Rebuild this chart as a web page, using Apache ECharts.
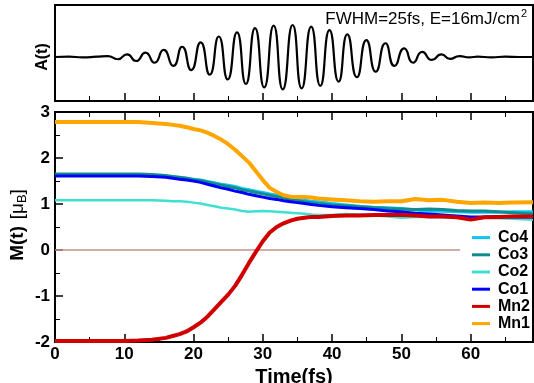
<!DOCTYPE html>
<html>
<head>
<meta charset="utf-8">
<script src="https://cdn.jsdelivr.net/npm/echarts@6/dist/echarts.min.js"></script>
<style>html,body{margin:0;padding:0;background:#fff}#c{width:534px;height:383px}</style>
</head>
<body>
<div id="c"></div>
<script>
// ---- data ----
var tA = [0,2,4,6,7.6,9.07,10.4,11.7,13.06,14.37,15.68,17.08,18.35,19.66,21.02,22.33,23.64,24.93,26.27,27.55,28.87,30.2,31.56,32.88,34.3,35.6,36.98,38.3,39.62,40.94,42.2,43.58,44.95,46.3,47.7,49.0,50.4,51.7,53.0,54.4,55.8,57.0,58.4,59.8,61,63,65,67,69];
var A  = [0,0.01,-0.01,0.01,0.03,-0.07,0.085,-0.125,0.135,-0.18,0.22,-0.28,0.32,-0.41,0.46,-0.55,0.64,-0.70,0.77,-0.84,0.90,-0.95,0.98,-1.01,1.0,-0.98,0.95,-0.90,0.84,-0.77,0.71,-0.63,0.53,-0.46,0.43,-0.28,0.27,-0.18,0.16,-0.09,0.08,-0.06,0.03,-0.01,0.01,-0.01,0.01,0,0];

var tM  = [0,5,10,12,14,16,17,18,19,20,21,22,23,24,25,26,27,28,29,30,31,32,33,34,35,36,37,38,40,42,44,46,48,50,52,54,56,58,60,62,64,66,69];
var Mn1 = [2.78,2.78,2.78,2.78,2.76,2.74,2.72,2.70,2.67,2.63,2.60,2.55,2.48,2.40,2.30,2.18,2.04,1.90,1.71,1.52,1.35,1.26,1.19,1.16,1.15,1.15,1.14,1.12,1.10,1.08,1.06,1.05,1.06,1.06,1.11,1.08,1.09,1.05,1.02,1.03,1.02,1.03,1.04];
var Mn2 = [-1.98,-1.98,-1.98,-1.97,-1.95,-1.91,-1.87,-1.83,-1.77,-1.68,-1.58,-1.45,-1.29,-1.13,-0.97,-0.78,-0.54,-0.28,-0.04,0.19,0.38,0.50,0.58,0.64,0.68,0.70,0.72,0.72,0.74,0.75,0.75,0.76,0.76,0.76,0.75,0.73,0.73,0.71,0.66,0.71,0.72,0.73,0.73];
var Co4 = [1.63,1.63,1.63,1.63,1.62,1.60,1.59,1.57,1.56,1.54,1.52,1.49,1.46,1.43,1.41,1.38,1.34,1.31,1.28,1.25,1.22,1.19,1.16,1.13,1.10,1.08,1.06,1.05,1.01,0.98,0.95,0.93,0.92,0.90,0.87,0.85,0.84,0.83,0.82,0.82,0.82,0.83,0.83];
var Co3 = [1.65,1.65,1.65,1.65,1.64,1.62,1.60,1.58,1.56,1.53,1.51,1.48,1.44,1.41,1.38,1.35,1.31,1.28,1.25,1.22,1.19,1.16,1.13,1.10,1.07,1.05,1.03,1.01,0.98,0.96,0.94,0.92,0.90,0.89,0.88,0.89,0.88,0.86,0.85,0.85,0.83,0.81,0.78];
var Co1 = [1.61,1.61,1.61,1.61,1.60,1.58,1.56,1.54,1.52,1.50,1.47,1.43,1.39,1.35,1.32,1.28,1.25,1.21,1.18,1.15,1.12,1.10,1.07,1.05,1.03,1.01,0.99,0.97,0.94,0.92,0.90,0.88,0.85,0.83,0.80,0.78,0.76,0.74,0.72,0.72,0.73,0.72,0.72];
var Co2 = [1.08,1.08,1.08,1.08,1.08,1.07,1.06,1.06,1.05,1.03,1.01,0.98,0.95,0.92,0.90,0.88,0.85,0.83,0.84,0.85,0.84,0.83,0.82,0.81,0.80,0.79,0.77,0.76,0.76,0.78,0.77,0.76,0.73,0.70,0.72,0.72,0.71,0.72,0.71,0.70,0.69,0.68,0.66];
var zeroT = [0, 58.5];
var zeroV = [0, 0];
var xTicks = [0,10,20,30,40,50,60];
var yTicks = [-2,-1,0,1,2,3];

function pairs(t, v){ return t.map(function(x,i){ return [x, v[i]]; }); }

var FONT = '"Liberation Sans", Arial, sans-serif';
var chart = echarts.init(document.getElementById('c'));

var tickStyle = {show:true, inside:true, length:8, lineStyle:{color:'#000', width:1.5}};
var minorStyle = {show:true, splitNumber:2, length:5, lineStyle:{color:'#000', width:1}};
var noLine = {show:false, onZero:false};

function mLine(name, t, v, color, width, z){
  return {name:name, type:'line', xAxisIndex:1, yAxisIndex:1, data:pairs(t,v), showSymbol:false, symbol:'none',
    lineStyle:{color:color, width:width}, itemStyle:{color:color}, z:z, animation:false};
}

chart.setOption({
  animation:false,
  backgroundColor:'#fff',
  grid:[
    {left:55, top:5, width:478, height:96, show:true, borderColor:'#000', borderWidth:2, containLabel:false, outerBoundsMode:'none'},
    {left:55, top:112, width:478, height:230, show:true, borderColor:'#000', borderWidth:2, containLabel:false, outerBoundsMode:'none'}
  ],
  xAxis:[
    {type:'value', gridIndex:0, min:0, max:69, interval:10, position:'bottom',
      axisLine:noLine, axisTick:tickStyle, minorTick:minorStyle, axisLabel:{show:false}, splitLine:{show:false}},
    {type:'value', gridIndex:1, min:0, max:69, interval:10, position:'bottom',
      axisLine:noLine, axisTick:tickStyle, minorTick:minorStyle, splitLine:{show:false},
      axisLabel:{show:true, margin:4, showMaxLabel:false, color:'#000', fontFamily:FONT, fontWeight:'bold', fontSize:17,
        formatter:function(v){ return xTicks.indexOf(v) >= 0 ? String(v) : ''; }},
      name:'Time(fs)', nameLocation:'middle', nameGap:21,
      nameTextStyle:{color:'#000', fontFamily:FONT, fontWeight:'bold', fontSize:20}},
    {type:'value', gridIndex:1, min:0, max:69, interval:10, position:'top',
      axisLine:noLine, axisTick:tickStyle, minorTick:minorStyle, axisLabel:{show:false}, splitLine:{show:false}}
  ],
  yAxis:[
    {type:'value', gridIndex:0, min:-1.375, max:1.625, axisLine:noLine, axisTick:{show:false},
      axisLabel:{show:false}, splitLine:{show:false}},
    {type:'value', gridIndex:1, min:-2, max:3, interval:1,
      axisLine:noLine, axisTick:tickStyle, minorTick:minorStyle, splitLine:{show:false},
      axisLabel:{show:true, margin:5, color:'#000', fontFamily:FONT, fontWeight:'bold', fontSize:17,
        formatter:function(v){ return yTicks.indexOf(v) >= 0 ? String(v) : ''; }}}
  ],
  legend:{
    orient:'vertical', left:467, top:224, itemWidth:18, itemHeight:3, itemGap:0, icon:'rect',
    data:['Co4','Co3','Co2','Co1','Mn2','Mn1'],
    textStyle:{color:'#000', fontFamily:FONT, fontWeight:'bold', fontSize:16, lineHeight:17.2, padding:[0,0,0,3]},
    selectedMode:false
  },
  graphic:[
    {type:'text', x:43, y:57, rotation:Math.PI/2,
      style:{text:'A(t)', font:'bold 16px ' + FONT, fill:'#000', align:'center', verticalAlign:'middle'}},
    {type:'text', x:18, y:225, rotation:Math.PI/2,
      style:{text:'{b|M(t)}  {n|[μ}{s|B}{n|]}', fill:'#000', align:'center', verticalAlign:'middle',
        rich:{b:{font:'bold 19px ' + FONT, fill:'#000'}, n:{font:'19px ' + FONT, fill:'#000'},
              s:{font:'13px ' + FONT, fill:'#000', verticalAlign:'bottom', padding:[8,0,0,0]}}}},
    {type:'text', x:527, y:19,
      style:{text:'FWHM=25fs, E=16mJ/cm{sup|2}', font:'17px ' + FONT, fill:'#000', align:'right', verticalAlign:'middle',
        rich:{sup:{font:'11px ' + FONT, fill:'#000', padding:[0,0,11,1]}}}}
  ],
  series:[
    {name:'A', type:'line', xAxisIndex:0, yAxisIndex:0, data:pairs(tA,A), showSymbol:false, symbol:'none', smooth:0.6,
      lineStyle:{color:'#000', width:2.2}, z:3, animation:false},
    {name:'zero', type:'line', xAxisIndex:1, yAxisIndex:1, data:pairs(zeroT,zeroV), showSymbol:false, symbol:'none',
      lineStyle:{color:'#C49090', width:1.5}, z:1, animation:false},
    mLine('Co2', tM, Co2, '#40E0D0', 2.5, 2),
    mLine('Co4', tM, Co4, '#10C4F0', 3, 3),
    mLine('Co3', tM, Co3, '#108C8C', 3, 4),
    mLine('Co1', tM, Co1, '#0000FF', 3, 5),
    mLine('Mn2', tM, Mn2, '#D00000', 4, 6),
    mLine('Mn1', tM, Mn1, '#FFA500', 4, 7)
  ]
});
</script>
</body>
</html>
